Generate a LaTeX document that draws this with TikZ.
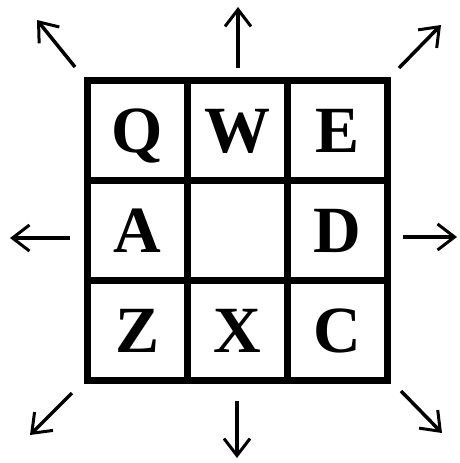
\documentclass[tikz,border=0pt]{standalone}
\usepackage{fontspec}
\newfontfamily\keyfont{Liberation Serif Bold}
\usetikzlibrary{arrows.meta, positioning}

\begin{document}
\begin{tikzpicture}[
    x=1pt, y=-1pt,
    node distance=0pt,
    cell/.style={rectangle, draw, line width=6.5pt, outer sep=0pt, inner sep=0pt,
                 minimum size=100pt, text height=43pt, text depth=0pt,
                 font=\fontsize{66}{70}\selectfont\keyfont},
    arr/.style={-{Straight Barb[length=17pt, width=26pt, line width=3pt]}, line width=3.5pt}
]
\useasboundingbox (0,0) rectangle (460,463);

% Key grid
\node[cell] (q) at (137.5,130.5) {Q};
\node[cell, right=of q] (w) {W};
\node[cell, right=of w] (e) {E};
\node[cell, below=of q] (a) {A};
\node[cell, right=of a] (s) {};
\node[cell, right=of s] (d) {D};
\node[cell, below=of a] (z) {Z};
\node[cell, right=of z] (x) {X};
\node[cell, right=of x] (c) {C};

% Arrow ends
\coordinate (nw0) at (75,67);   \coordinate (nw1) at (37,20);
\coordinate (n0)  at (238,68);  \coordinate (n1)  at (238,7);
\coordinate (ne0) at (399,68);  \coordinate (ne1) at (441,25);
\coordinate (w0)  at (70,238);  \coordinate (w1)  at (10,238);
\coordinate (e0)  at (403,237); \coordinate (e1)  at (457,237);
\coordinate (sw0) at (72,393);  \coordinate (sw1) at (30,435);
\coordinate (s0)  at (237,401); \coordinate (s1)  at (237,458);
\coordinate (se0) at (401,391); \coordinate (se1) at (442,433);

% Directions
\draw[arr] (nw0) -- (nw1);
\draw[arr] (n0) -- (n1);
\draw[arr] (ne0) -- (ne1);
\draw[arr] (w0) -- (w1);
\draw[arr] (e0) -- (e1);
\draw[arr] (sw0) -- (sw1);
\draw[arr] (s0) -- (s1);
\draw[arr] (se0) -- (se1);

\end{tikzpicture}
\end{document}
